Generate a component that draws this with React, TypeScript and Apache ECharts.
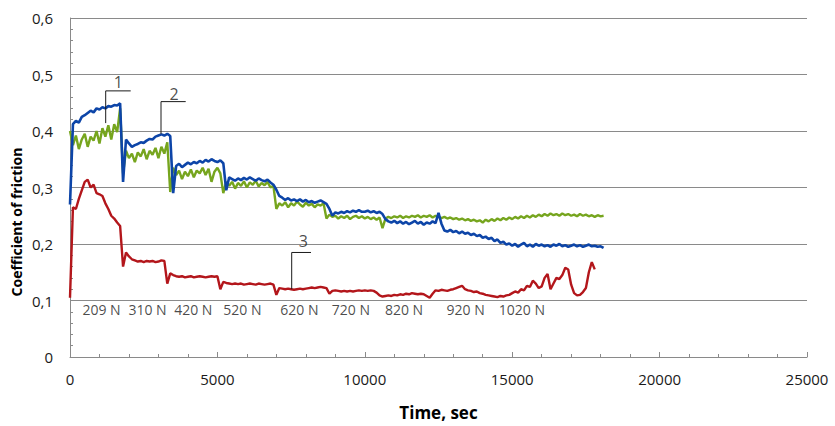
import React, { useEffect, useRef } from "react";
import * as echarts from "echarts";

// Sampling step of the recorded friction traces (s)
const TIME_STEP = 100;

// Curve 2 (blue)
const blueValues = [
  0.27, 0.412, 0.418, 0.415, 0.425, 0.428, 0.432, 0.436, 0.433, 0.44,
  0.438, 0.442, 0.44, 0.444, 0.443, 0.446, 0.445, 0.449, 0.31, 0.385,
  0.378, 0.372, 0.375, 0.377, 0.38, 0.379, 0.383, 0.386, 0.385, 0.39,
  0.392, 0.394, 0.392, 0.395, 0.391, 0.29, 0.338, 0.342, 0.336, 0.34,
  0.344, 0.341, 0.345, 0.343, 0.347, 0.344, 0.349, 0.346, 0.35, 0.347,
  0.345, 0.348, 0.343, 0.295, 0.318, 0.315, 0.312, 0.316, 0.313, 0.317,
  0.314, 0.318, 0.315, 0.312, 0.316, 0.313, 0.311, 0.314, 0.309, 0.305,
  0.296, 0.285, 0.282, 0.278, 0.281, 0.277, 0.279, 0.276, 0.279, 0.275,
  0.278, 0.274, 0.276, 0.273, 0.275, 0.277, 0.274, 0.271, 0.262, 0.25,
  0.256, 0.254, 0.257, 0.255, 0.258, 0.256, 0.259, 0.257, 0.26, 0.257,
  0.257, 0.259, 0.256, 0.258, 0.255, 0.257, 0.253, 0.244, 0.24, 0.238,
  0.241, 0.237, 0.24, 0.236, 0.239, 0.235, 0.238, 0.241, 0.236, 0.239,
  0.234, 0.238, 0.236, 0.24, 0.237, 0.255, 0.236, 0.224, 0.222, 0.225,
  0.221, 0.223, 0.219, 0.222, 0.218, 0.22, 0.216, 0.218, 0.214, 0.216,
  0.211, 0.213, 0.209, 0.211, 0.205, 0.208, 0.202, 0.204, 0.199, 0.201,
  0.197, 0.2, 0.195, 0.199, 0.202, 0.196, 0.199, 0.195, 0.2, 0.197,
  0.199, 0.196, 0.198, 0.195, 0.199, 0.197, 0.2, 0.196, 0.198, 0.195,
  0.197, 0.199, 0.196, 0.198, 0.195, 0.197, 0.199, 0.196, 0.197, 0.195,
  0.196, 0.193,
];

// Curve 1 (green)
const greenValues = [
  0.4, 0.375, 0.392, 0.368, 0.385, 0.395, 0.372, 0.39, 0.383, 0.4,
  0.378, 0.405, 0.39, 0.41, 0.385, 0.412, 0.398, 0.44, 0.325, 0.365,
  0.352, 0.36, 0.345, 0.362, 0.355, 0.368, 0.35, 0.365, 0.358, 0.37,
  0.352, 0.372, 0.36, 0.38, 0.292, 0.335, 0.322, 0.33, 0.315, 0.328,
  0.32, 0.332, 0.318, 0.33, 0.325, 0.335, 0.322, 0.333, 0.31, 0.328,
  0.335, 0.325, 0.29, 0.31, 0.303, 0.31, 0.298, 0.308, 0.303, 0.311,
  0.3, 0.309, 0.305, 0.312, 0.302, 0.308, 0.304, 0.31, 0.3, 0.303,
  0.262, 0.272, 0.268, 0.274, 0.265, 0.272, 0.268, 0.275, 0.27, 0.266,
  0.273, 0.268, 0.271, 0.265, 0.27, 0.268, 0.272, 0.245, 0.252, 0.248,
  0.25, 0.245, 0.249, 0.246, 0.25, 0.244, 0.248, 0.25, 0.246, 0.249,
  0.245, 0.248, 0.244, 0.247, 0.243, 0.247, 0.228, 0.245, 0.248, 0.246,
  0.249, 0.247, 0.25, 0.246, 0.249, 0.247, 0.25, 0.248, 0.251, 0.247,
  0.25, 0.248, 0.251, 0.247, 0.25, 0.248, 0.246, 0.248, 0.245, 0.247,
  0.244, 0.246, 0.243, 0.245, 0.242, 0.244, 0.241, 0.243, 0.24, 0.242,
  0.238, 0.243, 0.24, 0.244, 0.241, 0.245, 0.242, 0.246, 0.243, 0.247,
  0.244, 0.248, 0.245, 0.249, 0.246, 0.25, 0.247, 0.251, 0.248, 0.252,
  0.249, 0.253, 0.25, 0.254, 0.251, 0.253, 0.25, 0.254, 0.251, 0.253,
  0.25, 0.252, 0.249, 0.253, 0.25, 0.252, 0.249, 0.251, 0.248, 0.251,
  0.249, 0.25,
];

// Curve 3 (red)
const redValues = [
  0.105, 0.265, 0.262, 0.28, 0.295, 0.31, 0.314, 0.3, 0.305, 0.29,
  0.288, 0.285, 0.272, 0.262, 0.25, 0.245, 0.238, 0.232, 0.16, 0.185,
  0.178, 0.173, 0.171, 0.169, 0.17, 0.168, 0.17, 0.169, 0.17, 0.168,
  0.169, 0.171, 0.17, 0.13, 0.148, 0.145, 0.143, 0.142, 0.143, 0.141,
  0.142, 0.143, 0.141, 0.142, 0.143, 0.142, 0.141, 0.142, 0.143, 0.142,
  0.143, 0.12, 0.133, 0.131, 0.13, 0.129, 0.13, 0.129, 0.13, 0.128,
  0.129, 0.13, 0.129, 0.128, 0.13, 0.129, 0.128, 0.129, 0.13, 0.128,
  0.11, 0.122, 0.121, 0.12, 0.121, 0.12, 0.119, 0.12, 0.121, 0.12,
  0.121, 0.122, 0.123, 0.122, 0.123, 0.124, 0.123, 0.122, 0.112, 0.117,
  0.118, 0.117, 0.116, 0.117, 0.116, 0.117, 0.116, 0.117, 0.118, 0.117,
  0.118, 0.117, 0.118, 0.117, 0.114, 0.109, 0.107, 0.108, 0.109, 0.108,
  0.11, 0.109, 0.111, 0.11, 0.112, 0.111, 0.113, 0.112, 0.111, 0.112,
  0.111, 0.108, 0.105, 0.112, 0.118, 0.117, 0.119, 0.118, 0.117, 0.119,
  0.12, 0.122, 0.124, 0.126, 0.12, 0.118, 0.117, 0.115, 0.116, 0.113,
  0.112, 0.11, 0.109, 0.108, 0.107, 0.106, 0.108, 0.107, 0.109, 0.11,
  0.113, 0.116, 0.114, 0.12, 0.118, 0.126, 0.124, 0.135, 0.13, 0.122,
  0.125, 0.14, 0.147, 0.12, 0.13, 0.14, 0.138, 0.145, 0.158, 0.155,
  0.128, 0.113, 0.109, 0.11, 0.115, 0.122, 0.15, 0.168, 0.155,
];

// Load labels along the time axis
const loadLabels = ["209 N", "310 N", "420 N", "520 N", "620 N", "720 N", "820 N", "920 N", "1020 N"];
const loadLabelTimes = [1070, 2630, 4180, 5850, 7780, 9530, 11330, 13420, 15330];
const loadLabelLevel = 0.084;

// Leader lines for curve numbers: [time, value] vertices
const leader1 = [[1211, 0.414], [1211, 0.471], [2059, 0.471]];
const leader2 = [[3087, 0.395], [3087, 0.452], [3925, 0.452]];
const leader3 = [[7520, 0.12], [7520, 0.185], [8175, 0.185]];
const curveNumbers = ["1", "2", "3"];
const curveNumberPos = [[1638, 0.486], [3528, 0.465], [7914, 0.206]];

const X_TICKS = { min: 0, max: 25000, interval: 5000 };
const Y_TICKS = { min: 0, max: 0.6, interval: 0.1 };

const X_TITLE = "Time, sec";
const Y_TITLE = "Coefficient of friction";

const FONT = "'Open Sans', 'Noto Sans', sans-serif";

function toPairs(values: number[]) {
  return values.map((v, i) => [i * TIME_STEP, v]);
}

export default function App() {
  const ref = useRef<HTMLDivElement>(null);

  useEffect(() => {
    if (!ref.current) return;
    const chart = echarts.init(ref.current, undefined, { renderer: "svg" });
    const leaderStyle = { color: "#1a1a1a", width: 1 };
    const leader = (d: number[][]) => ({
      type: "line",
      data: d,
      symbol: "none",
      silent: true,
      lineStyle: leaderStyle,
      z: 5,
    });
    chart.setOption({
      animation: false,
      backgroundColor: "#ffffff",
      grid: { left: 70, right: 28, top: 18, bottom: 53, containLabel: false },
      graphic: [
        {
          type: "text",
          x: 16,
          y: 222,
          rotation: Math.PI / 2,
          style: {
            text: Y_TITLE,
            fontFamily: FONT,
            fontWeight: "bold",
            fontSize: 14,
            fill: "#000",
            align: "center",
            verticalAlign: "middle",
          },
        },
      ],
      xAxis: {
        type: "value",
        min: X_TICKS.min,
        max: X_TICKS.max,
        interval: X_TICKS.interval,
        name: X_TITLE,
        nameLocation: "middle",
        nameGap: 47,
        nameTextStyle: { fontFamily: FONT, fontWeight: "bold", fontSize: 17, color: "#000" },
        axisLine: { show: true, lineStyle: { color: "#8a8a8a", width: 1 } },
        axisTick: { show: true, inside: true, length: 5, lineStyle: { color: "#8a8a8a" } },
        minorTick: { show: true, splitNumber: 5, length: 3, lineStyle: { color: "#8a8a8a" } },
        splitLine: { show: false },
        axisLabel: {
          fontFamily: FONT,
          fontSize: 15,
          color: "#1a1a1a",
          margin: 14,
          formatter: (v: number) => String(v),
        },
      },
      yAxis: {
        type: "value",
        min: Y_TICKS.min,
        max: Y_TICKS.max,
        interval: Y_TICKS.interval,
        axisLine: { show: true, lineStyle: { color: "#8a8a8a", width: 1 } },
        axisTick: { show: true, inside: true, length: 4, lineStyle: { color: "#8a8a8a" } },
        minorTick: { show: true, splitNumber: 5, length: 3, lineStyle: { color: "#8a8a8a" } },
        splitLine: { show: true, lineStyle: { color: "#8a8a8a", width: 1 } },
        axisLabel: {
          fontFamily: FONT,
          fontSize: 15,
          color: "#1a1a1a",
          margin: 17,
          formatter: (v: number) => (v === 0 ? "0" : v.toFixed(1).replace(".", ",")),
        },
      },
      series: [
        {
          type: "line",
          data: toPairs(greenValues),
          symbol: "none",
          lineStyle: { color: "#76a51e", width: 2.4 },
          z: 2,
        },
        {
          type: "line",
          data: toPairs(blueValues),
          symbol: "none",
          lineStyle: { color: "#0d45a8", width: 2.6 },
          z: 3,
        },
        {
          type: "line",
          data: toPairs(redValues),
          symbol: "none",
          lineStyle: { color: "#b3161b", width: 2.4 },
          z: 4,
        },
        leader(leader1),
        leader(leader2),
        leader(leader3),
        {
          type: "scatter",
          symbolSize: 0,
          silent: true,
          data: loadLabelTimes.map((t, i) => ({ value: [t, loadLabelLevel], name: loadLabels[i] })),
          label: {
            show: true,
            position: "inside",
            formatter: (p: any) => p.name,
            fontFamily: FONT,
            fontSize: 14,
            color: "#1a1a1a",
          },
          z: 6,
        },
        {
          type: "scatter",
          symbolSize: 0,
          silent: true,
          data: curveNumberPos.map((p, i) => ({ value: p, name: curveNumbers[i] })),
          label: {
            show: true,
            position: "inside",
            formatter: (p: any) => p.name,
            fontFamily: FONT,
            fontSize: 16,
            color: "#1a1a1a",
          },
          z: 6,
        },
      ],
    });
    return () => chart.dispose();
  }, []);

  return (
    <div
      ref={ref}
      style={{ position: "absolute", left: 0, top: 0, width: 835, height: 426, background: "#fff" }}
    />
  );
}
